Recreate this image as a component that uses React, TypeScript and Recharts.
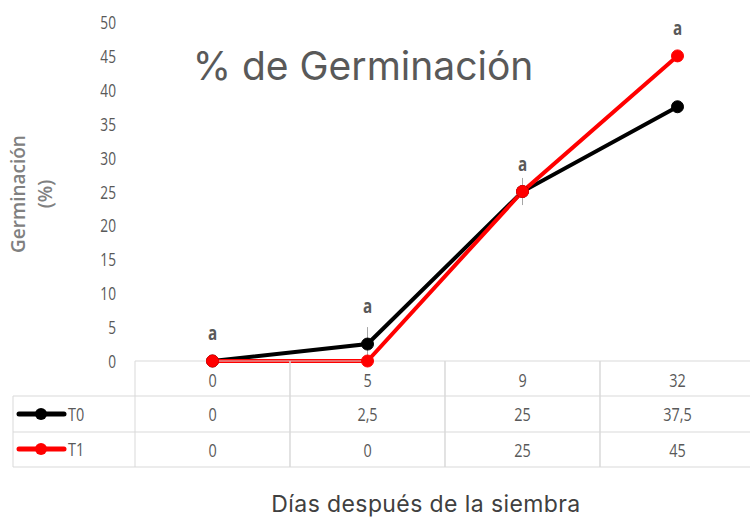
import React from 'react';
import { LineChart, Line, XAxis, YAxis, LabelList, ErrorBar } from 'recharts';

const days = ['0', '5', '9', '32'];
const t0Values = [0, 2.5, 25, 37.5];
const t1Values = [0, 0, 25, 45];
const t0Errors = [0, 2.5, 2, 0];
const tableT0 = ['0', '2,5', '25', '37,5'];
const tableT1 = ['0', '0', '25', '45'];
const letters = ['a', 'a', 'a', 'a'];
const yTicks = [0, 5, 10, 15, 20, 25, 30, 35, 40, 45, 50];
const seriesNames = ['T0', 'T1'];
const seriesColors = ['#000000', '#ff0000'];

const data = days.map((d, i) => ({
  day: d,
  T0: t0Values[i],
  T1: t1Values[i],
  T0err: t0Errors[i],
}));

const FONT = '"Open Sans", sans-serif';
const GRID = '#d9d9d9';
const TXT = '#595959';

const NarrowText = ({ x, y, anchor = 'middle', size = 19, weight = 'normal', fill = TXT, sx = 0.76, children }: any) => (
  <text
    transform={`translate(${x},${y}) scale(${sx},1)`}
    x={0}
    y={0}
    textAnchor={anchor}
    fontFamily={FONT}
    fontSize={size}
    fontWeight={weight}
    fill={fill}
  >
    {children}
  </text>
);

const TableTick = (props: any) => {
  const { x, y, payload } = props;
  const i = payload.index;
  const half = 77.5;
  const base = y;
  const l = x - half;
  const r = x + half;
  const rowsY = [base + 35, base + 71, base + 106];
  return (
    <g>
      <line x1={l} y1={base} x2={l} y2={rowsY[2]} stroke={GRID} strokeWidth={1} />
      <line x1={r} y1={base} x2={r} y2={rowsY[2]} stroke={GRID} strokeWidth={1} />
      {rowsY.map((ry, k) => (
        <line key={k} x1={l} y1={ry} x2={r} y2={ry} stroke={GRID} strokeWidth={1} />
      ))}
      <NarrowText x={x} y={base + 26}>{days[i]}</NarrowText>
      <NarrowText x={x} y={base + 60}>{tableT0[i]}</NarrowText>
      <NarrowText x={x} y={base + 96}>{tableT1[i]}</NarrowText>
      {i === 0 && (
        <g>
          <line x1={13} y1={rowsY[0]} x2={13} y2={rowsY[2]} stroke={GRID} strokeWidth={1} />
          <line x1={13} y1={rowsY[0]} x2={l} y2={rowsY[0]} stroke={GRID} strokeWidth={1} />
          <line x1={13} y1={rowsY[1]} x2={l} y2={rowsY[1]} stroke={GRID} strokeWidth={1} />
          <line x1={13} y1={rowsY[2]} x2={l} y2={rowsY[2]} stroke={GRID} strokeWidth={1} />
          {seriesNames.map((n, k) => {
            const cy = base + 53 + k * 35;
            return (
              <g key={n}>
                <line x1={19} y1={cy} x2={64} y2={cy} stroke={seriesColors[k]} strokeWidth={5} strokeLinecap="round" />
                <circle cx={41} cy={cy} r={6} fill={seriesColors[k]} />
                <NarrowText x={68} y={cy + 7} anchor="start">{n}</NarrowText>
              </g>
            );
          })}
        </g>
      )}
    </g>
  );
};

const YTick = (props: any) => {
  const { x, y, payload } = props;
  return (
    <NarrowText x={x} y={y + 7} anchor="end" size={18}>
      {payload.value}
    </NarrowText>
  );
};

const makeLetter = (mine: number[], other: number[], strict: boolean, errs: number[]) => (props: any) => {
  const { x, y, index } = props;
  const show = strict ? mine[index] > other[index] : mine[index] >= other[index];
  if (!show) return null;
  const extra = errs[index] * 4;
  return (
    <NarrowText x={x} y={y - 21 - extra} size={19} weight="bold" fill="#595959" sx={0.8}>
      {letters[index]}
    </NarrowText>
  );
};

const noErr = [0, 0, 0, 0];

export default function App() {
  return (
    <div style={{ position: 'absolute', left: 0, top: 0, width: 750, height: 519, overflow: 'hidden', background: '#fff' }}>
      <LineChart width={760} height={519} data={data} margin={{ top: 22, right: 5, bottom: 53, left: 0 }}>
        <XAxis
          dataKey="day"
          type="category"
          padding={{ left: 77.5, right: 77.5 }}
          axisLine={{ stroke: GRID }}
          tickLine={false}
          tickSize={0}
          tickMargin={0}
          height={105}
          interval={0}
          tick={<TableTick />}
        />
        <YAxis
          domain={[0, 50]}
          ticks={yTicks}
          width={135}
          axisLine={false}
          tickLine={false}
          tickSize={0}
          tickMargin={19}
          tick={<YTick />}
        />
        <Line
          dataKey="T0"
          stroke="#000000"
          strokeWidth={4}
          dot={{ r: 6, fill: '#000000', stroke: '#000000', strokeWidth: 1 }}
          isAnimationActive={false}
        >
          <ErrorBar dataKey="T0err" direction="y" width={0} stroke="#a6a6a6" strokeWidth={1} />
          <LabelList dataKey="T0" content={makeLetter(t0Values, t1Values, true, t0Errors)} />
        </Line>
        <Line
          dataKey="T1"
          stroke="#ff0000"
          strokeWidth={4}
          dot={{ r: 6, fill: '#ff0000', stroke: '#ff0000', strokeWidth: 1 }}
          isAnimationActive={false}
        >
          <LabelList dataKey="T1" content={makeLetter(t1Values, t0Values, false, noErr)} />
        </Line>
        <text x={363} y={80} textAnchor="middle" fontFamily="Inter, sans-serif" fontSize={39} fill={TXT}>
          % de Germinación
        </text>
        <text x={426} y={512} textAnchor="middle" fontFamily="Inter, sans-serif" fontSize={23} letterSpacing={0.4} fill="#404040">
          Días después de la siembra
        </text>
        <text transform="rotate(-90 18 194)" x={18} y={194} textAnchor="middle" dominantBaseline="central" fontFamily={FONT} fontWeight={600} fontSize={19} fill="#808080">
          Germinación
        </text>
        <text transform="rotate(-90 45 194)" x={45} y={194} textAnchor="middle" dominantBaseline="central" fontFamily={FONT} fontWeight={600} fontSize={19} fill="#808080">
          (%)
        </text>
      </LineChart>
    </div>
  );
}
